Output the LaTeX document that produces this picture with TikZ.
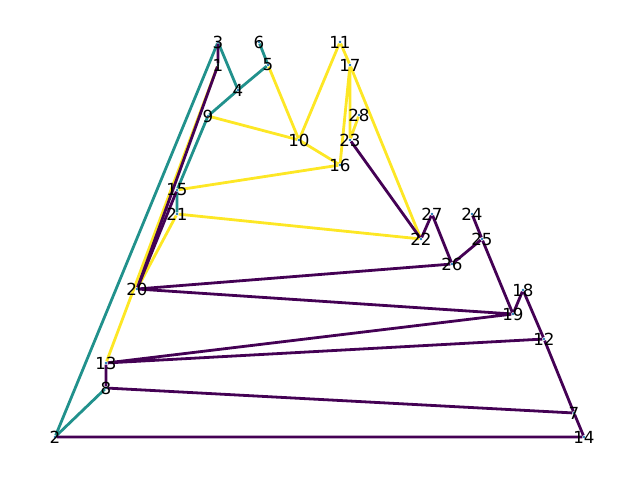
\documentclass[tikz,border=0pt]{standalone}
\usepackage{fontspec}
\setmainfont{DejaVu Sans}
\usepackage{tikz}
\usetikzlibrary{backgrounds}
\definecolor{vpurple}{HTML}{440154}
\definecolor{vteal}{HTML}{21918C}
\definecolor{vyellow}{HTML}{FDE725}
\definecolor{dotblue}{HTML}{1F78B4}

\begin{document}
\begin{tikzpicture}[x=0.75pt,y=-0.75pt,
font=\fontsize{12.5}{14}\selectfont
]
    \tikzstyle{vertex}=[circle,fill=dotblue,inner sep=0,minimum size=2.2pt,label={[inner sep=0]center:\nodetext}]
    \tikzstyle{edge}=[line width=2.1pt]
    \tikzstyle{low}=[edge,draw=vpurple]
    \tikzstyle{mid}=[edge,draw=vteal]
    \tikzstyle{high}=[edge,draw=vyellow]
    \useasboundingbox (0,0) rectangle (640,480);

    % vertices
    \foreach \n/\x/\y in {3/218/42, 1/218/65, 4/238/90, 6/259/42, 5/268/65,
        9/208/116, 10/299/140, 11/340/42, 17/350/65, 28/359/115, 23/350/140,
        16/340/165, 15/177/190, 21/177/214, 27/432/214, 24/472/214,
        22/421/239, 25/482/239, 26/452/264, 20/137/289, 18/523/290,
        19/513/314, 12/544/339, 13/106/363, 8/106/388, 7/574/413,
        2/55/437, 14/584/437}
        {\def\nodetext{\n}\node(\n)[vertex] at (\x,\y){};}

    % edges
    \begin{pgfonlayer}{background}
    \draw[mid] (3)--(2);
    \draw[mid] (3)--(4);
    \draw[mid] (9)--(4)--(5)--(6);
    \draw[mid] (9)--(15)--(21);
    \draw[mid] (2)--(8);
    \draw[high] (1)--(13);
    \draw[high] (21)--(20);
    \draw[high] (21)--(22);
    \draw[high] (15)--(16);
    \draw[high] (9)--(10);
    \draw[high] (5)--(10)--(11)--(17);
    \draw[high] (10)--(16)--(17)--(23)--(28);
    \draw[high] (17)--(22);
    \draw[low] (3)--(1)--(20);
    \draw[low] (15)--(20);
    \draw[low] (23)--(22)--(27)--(26)--(25)--(24);
    \draw[low] (25)--(19)--(18)--(12)--(7)--(14)--(2);
    \draw[low] (26)--(20)--(19)--(13)--(12);
    \draw[low] (13)--(8)--(7);
    \end{pgfonlayer}
\end{tikzpicture}
\end{document}
